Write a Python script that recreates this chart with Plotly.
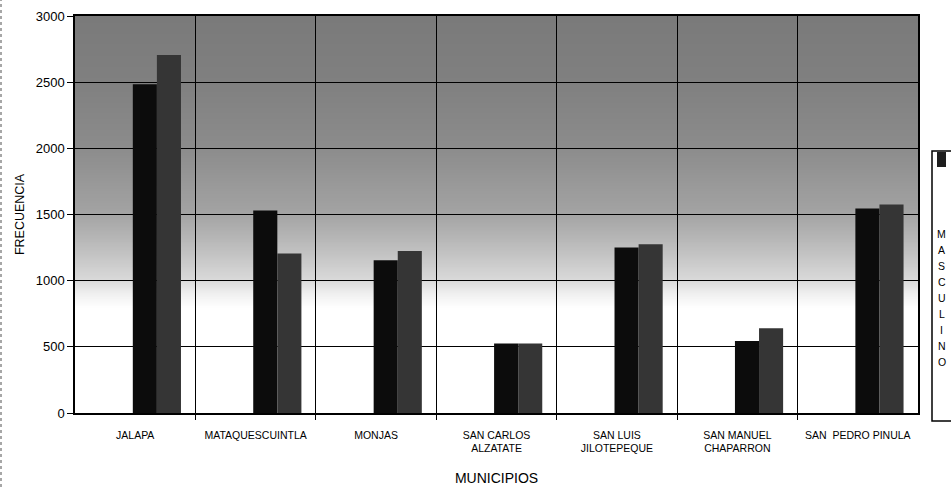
import base64
import struct
import zlib

import plotly.graph_objects as go

# Frecuencia por municipio, dos series
municipios = [
    "JALAPA",
    "MATAQUESCUINTLA",
    "MONJAS",
    "SAN CARLOS<br>ALZATATE",
    "SAN LUIS<br>JILOTEPEQUE",
    "SAN MANUEL<br>CHAPARRON",
    "SAN\u00a0 PEDRO PINULA",
]
masculino = [2485, 1530, 1155, 525, 1250, 545, 1545]
femenino = [2705, 1205, 1225, 525, 1275, 640, 1575]
y_ticks = [0, 500, 1000, 1500, 2000, 2500, 3000]

FONT = "Liberation Sans, Arial, sans-serif"

# plot-area geometry in pixels
W, H = 951, 487
L, R, T, B = 75, 33, 16, 74
PW, PH = W - L - R, H - T - B


def px_x(px):
    return (px - L) / PW


def px_y(py):
    return (H - B - py) / PH


def gradient_png(stops, n=300):
    """1-pixel-wide grayscale PNG, top row = first stop."""
    rows = []
    for i in range(n):
        f = i / (n - 1)
        for (f0, g0), (f1, g1) in zip(stops[:-1], stops[1:]):
            if f0 <= f <= f1:
                t = 0 if f1 == f0 else (f - f0) / (f1 - f0)
                g = int(round(g0 + (g1 - g0) * t))
                break
        rows.append(b"\x00" + bytes([g]))
    raw = b"".join(rows)

    def chunk(tag, data):
        c = struct.pack(">I", len(data)) + tag + data
        return c + struct.pack(">I", zlib.crc32(tag + data) & 0xFFFFFFFF)

    png = b"\x89PNG\r\n\x1a\n"
    png += chunk(b"IHDR", struct.pack(">IIBBBBB", 1, n, 8, 0, 0, 0, 0))
    png += chunk(b"IDAT", zlib.compress(raw, 9))
    png += chunk(b"IEND", b"")
    return "data:image/png;base64," + base64.b64encode(png).decode()


# vertical shading: mid gray at the top fading to white near the bottom
bg_stops = [
    (0.00, 0x7A),
    (1 / 6, 0x80),
    (2 / 6, 0x8C),
    (3 / 6, 0xA4),
    (0.583, 0xBE),
    (4 / 6, 0xDA),
    (0.70, 0xF0),
    (0.735, 0xFF),
    (1.00, 0xFF),
]

xs = list(range(len(municipios)))

fig = go.Figure()
fig.add_trace(go.Bar(
    x=xs, y=masculino, name="MASCULINO",
    offset=-0.02, width=0.2,
    marker=dict(color="#0c0c0c", line=dict(width=0)),
))
fig.add_trace(go.Bar(
    x=xs, y=femenino, name="FEMENINO",
    offset=0.18, width=0.2,
    marker=dict(color="#353535", line=dict(width=0)),
))

boundaries = [i + 0.5 for i in xs[:-1]]

fig.update_layout(
    width=W, height=H,
    margin=dict(l=L, r=R, t=T, b=B, pad=0, autoexpand=False),
    paper_bgcolor="white",
    plot_bgcolor="white",
    barmode="overlay",
    showlegend=False,
    font=dict(family=FONT, color="black"),
    images=[dict(
        source=gradient_png(bg_stops),
        xref="paper", yref="paper", x=0, y=1, sizex=1, sizey=1,
        sizing="stretch", layer="below",
    )],
    xaxis=dict(
        range=[-0.5, 6.5], automargin=False,
        tickmode="array", tickvals=xs, ticktext=municipios,
        ticks="outside", ticklen=11, tickcolor="rgba(0,0,0,0)",
        tickfont=dict(size=10.5, family=FONT, color="black"),
        showgrid=False, zeroline=False,
        showline=True, linecolor="black", linewidth=2, mirror=True,
        minor=dict(
            tickmode="array", tickvals=boundaries,
            ticks="outside", ticklen=5, tickcolor="black",
            showgrid=True, gridcolor="black", gridwidth=1,
        ),
        title=dict(text="MUNICIPIOS", font=dict(size=14, family=FONT),
                   standoff=20),
    ),
    yaxis=dict(
        range=[0, 3000], automargin=False,
        tickmode="array", tickvals=y_ticks,
        ticks="outside", ticklen=6, tickcolor="black",
        tickfont=dict(size=13, family=FONT, color="black"),
        showgrid=True, gridcolor="black", gridwidth=1,
        zeroline=False,
        showline=True, linecolor="black", linewidth=1.5, mirror=True,
        title=dict(text="FRECUENCIA", font=dict(size=12.5, family=FONT),
                   standoff=8),
    ),
)

# legend panel on the right edge (partly outside the page)
shapes = [
    dict(type="rect", xref="paper", yref="paper",
         x0=px_x(932), x1=px_x(975), y0=px_y(421), y1=px_y(151),
         line=dict(color="black", width=1.5), fillcolor="white"),
    dict(type="rect", xref="paper", yref="paper",
         x0=px_x(937), x1=px_x(946), y0=px_y(167), y1=px_y(152),
         line=dict(width=0), fillcolor="#1e1e1e"),
    # page edge at the far left
    dict(type="line", xref="paper", yref="paper",
         x0=px_x(1), x1=px_x(1), y0=px_y(487), y1=px_y(0),
         line=dict(color="#8a8a8a", width=1.5, dash="dot")),
]
fig.update_layout(shapes=shapes)

label = fig.data[0].name
for i, ch in enumerate(label):
    fig.add_annotation(
        text=ch, xref="paper", yref="paper",
        x=px_x(942), y=px_y(234 + 16 * i),
        showarrow=False, xanchor="center", yanchor="middle",
        font=dict(size=10.5, family=FONT, color="black"),
    )

fig.write_html("out.html")
